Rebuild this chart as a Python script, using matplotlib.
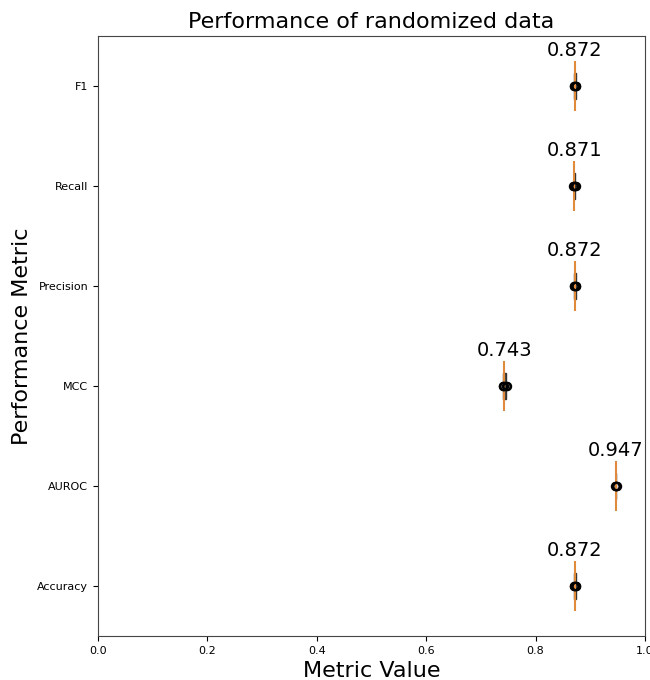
import numpy as np
import matplotlib.pyplot as plt

metrics = ['Accuracy', 'AUROC', 'MCC', 'Precision', 'Recall', 'F1']

# per-fold scores
accuracy = [0.871, 0.871, 0.872, 0.873, 0.873]
auroc = [0.946, 0.947, 0.947, 0.947, 0.948]
mcc = [0.740, 0.741, 0.743, 0.745, 0.747]
precision = [0.870, 0.871, 0.872, 0.873, 0.874]
recall = [0.869, 0.870, 0.871, 0.872, 0.873]
f1 = [0.871, 0.871, 0.872, 0.873, 0.873]

data = [accuracy, auroc, mcc, precision, recall, f1]
positions = np.arange(1, len(metrics) + 1)

fig = plt.figure(figsize=(6.5, 6.8), dpi=100)
ax = fig.add_axes([98 / 650, 44 / 680, 547 / 650, 600 / 680])

ax.boxplot(data, positions=positions, vert=False, widths=0.26, patch_artist=True,
           showfliers=False, showcaps=False,
           boxprops=dict(facecolor='#4a4a4a', edgecolor='#333333', linewidth=1),
           whiskerprops=dict(color='#333333', linewidth=1),
           medianprops=dict(linewidth=0))

for pos, vals in zip(positions, data):
    med = np.median(vals)
    ax.vlines(med, pos - 0.25, pos + 0.25, color='#e08a3c', linewidth=1.5, zorder=3)
    ax.plot(vals, [pos] * len(vals), 'o', markerfacecolor='none',
            markeredgecolor='black', markersize=5.5, markeredgewidth=1.3, zorder=4)
    ax.text(med, pos + 0.26, f'{med:.3f}', ha='center', va='bottom', fontsize=14)

ax.set_yticks(positions)
ax.set_yticklabels(metrics, fontsize=8)
ax.tick_params(axis='x', labelsize=8)
ax.set_xlim(0, 1)
ax.set_ylim(0.5, 6.5)
ax.set_xlabel('Metric Value', fontsize=16)
ax.set_ylabel('Performance Metric', fontsize=16)
ax.set_title('Performance of randomized data', fontsize=16)
for sp in ax.spines.values():
    sp.set_color('#444444')

fig.savefig('out.png')
